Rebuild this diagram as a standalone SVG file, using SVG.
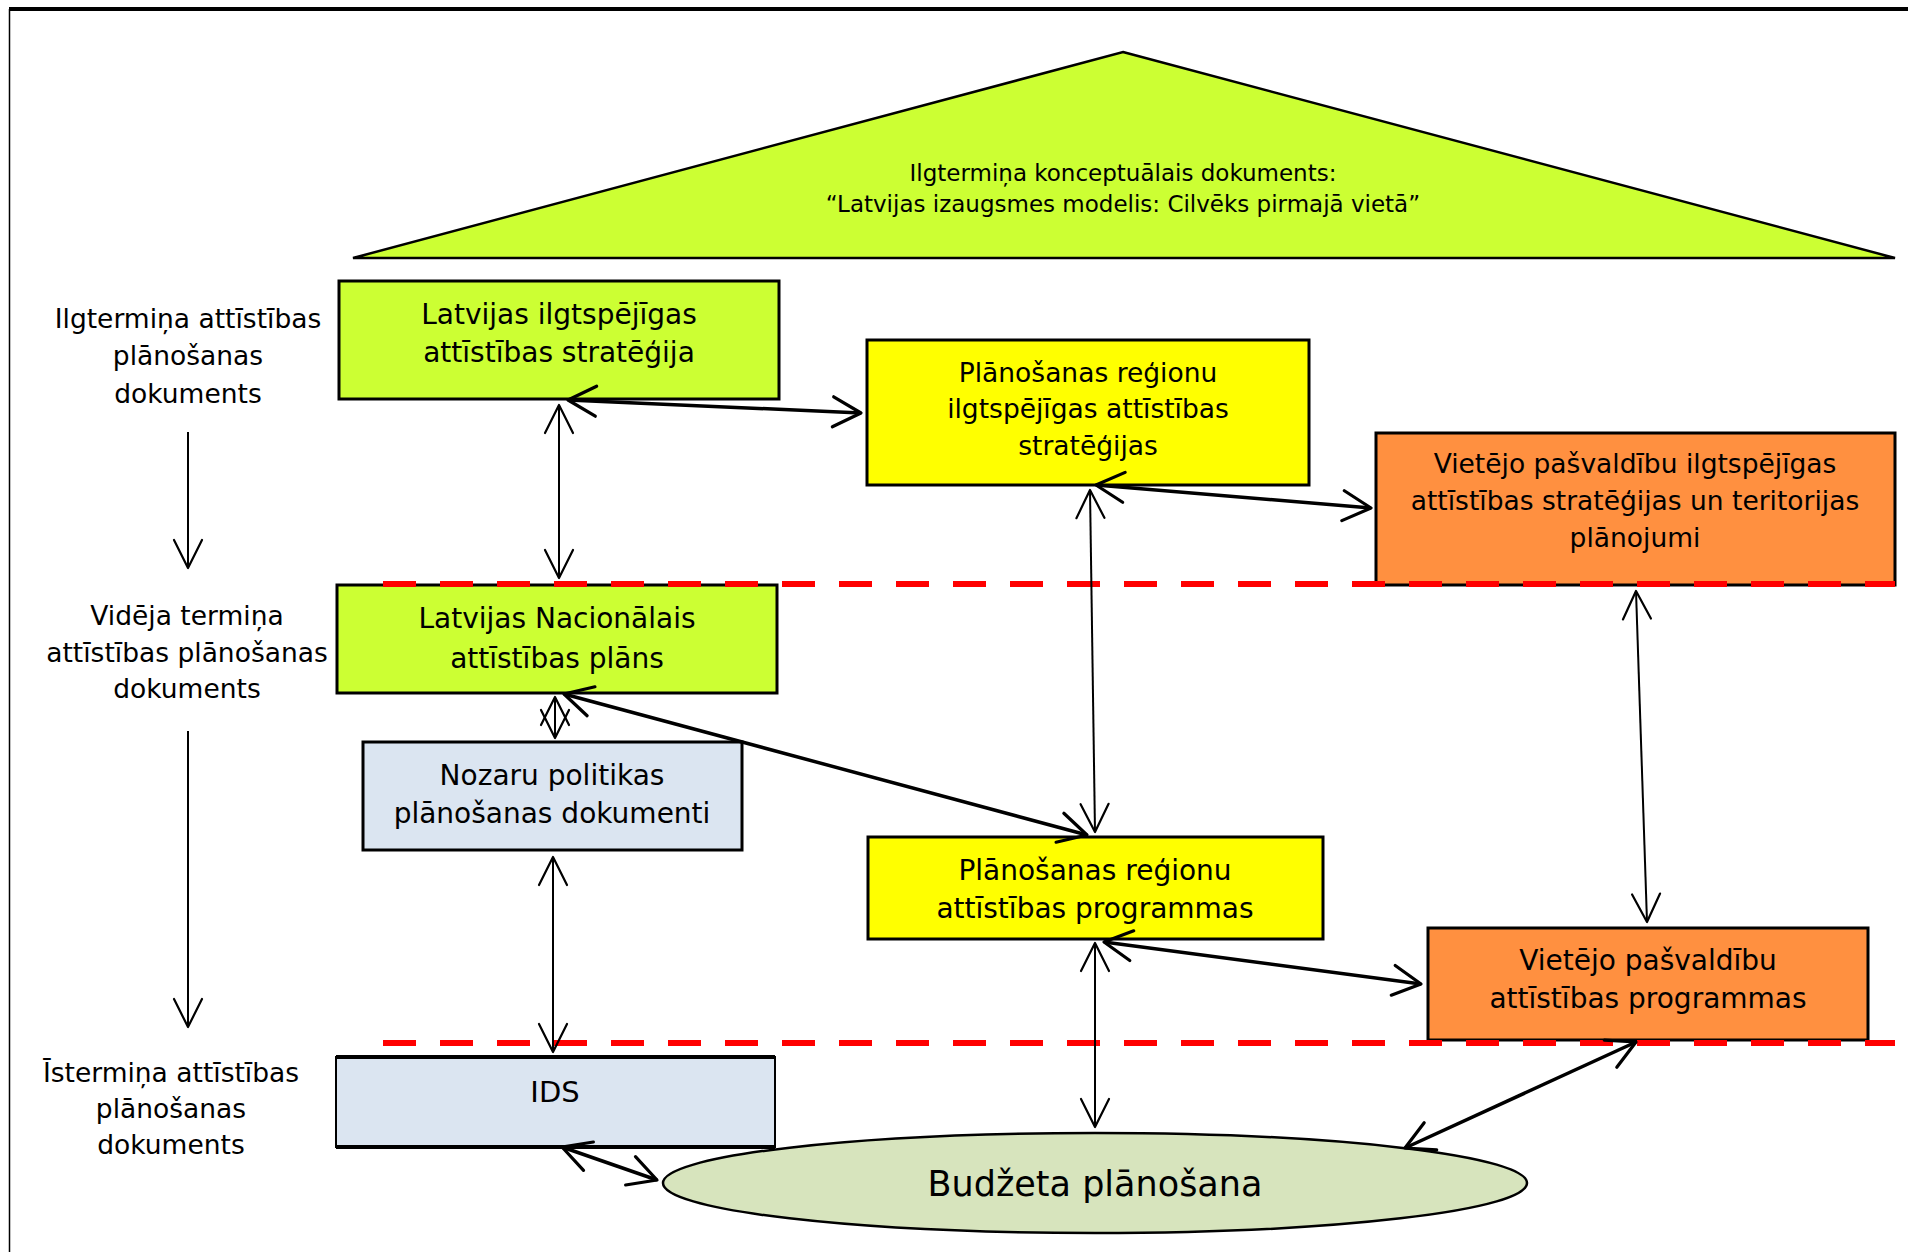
<svg xmlns="http://www.w3.org/2000/svg" width="1908" height="1252" viewBox="0 0 1908 1252">
<style>
.t{font-family:"DejaVu Sans","Liberation Sans",sans-serif;fill:#000;text-anchor:middle}
.bx{stroke:#000;stroke-width:3}
.lime{fill:#ccff33}.yel{fill:#ffff00}.org{fill:#ff9040}.blu{fill:#dbe5f1}
.thin{stroke:#000;stroke-width:2;fill:none}
.thick{stroke:#000;stroke-width:3.5;fill:none}
.red{stroke:#ff0000;stroke-width:6;stroke-dasharray:33 24;fill:none}
</style>
<defs>
<marker id="ah" viewBox="-34 -18 38 36" refX="0" refY="0" markerWidth="38" markerHeight="36" markerUnits="userSpaceOnUse" orient="auto-start-reverse"><path d="M-28,-14 L0,0 L-28,14" fill="none" stroke="#000" stroke-width="2.2" stroke-linecap="round" stroke-linejoin="round"/></marker>
<marker id="ahb" viewBox="-34 -18 38 36" refX="0" refY="0" markerWidth="38" markerHeight="36" markerUnits="userSpaceOnUse" orient="auto-start-reverse"><path d="M-28,-15 L0,0 L-28,15" fill="none" stroke="#000" stroke-width="3.2" stroke-linecap="round" stroke-linejoin="round"/></marker>
</defs>
<rect width="1908" height="1252" fill="#fff"/>
<g id="frame">
<line x1="9" y1="9" x2="1908" y2="9" stroke="#000" stroke-width="4"/>
<line x1="9.5" y1="9" x2="9.5" y2="1252" stroke="#000" stroke-width="1.5"/>
</g>
<g id="triangle">
<polygon points="1123,52 1895,258 353,258" fill="#ccff33" stroke="#000" stroke-width="2.5" stroke-linejoin="miter"/>
<text class="t" x="1123" y="181" font-size="23">Ilgtermiņa konceptuālais dokuments:</text>
<text class="t" x="1123" y="212" font-size="23">“Latvijas izaugsmes modelis: Cilvēks pirmajā vietā”</text>
</g>
<g id="label-long">
<text class="t" x="188" y="328" font-size="26.5">Ilgtermiņa attīstības</text>
<text class="t" x="188" y="365" font-size="26.5">plānošanas</text>
<text class="t" x="188" y="403" font-size="26.5">dokuments</text>
</g>
<g id="label-mid">
<text class="t" x="187" y="625" font-size="26.5">Vidēja termiņa</text>
<text class="t" x="187" y="662" font-size="26.5">attīstības plānošanas</text>
<text class="t" x="187" y="698" font-size="26.5">dokuments</text>
</g>
<g id="label-short">
<text class="t" x="171" y="1082" font-size="26.5">Īstermiņa attīstības</text>
<text class="t" x="171" y="1118" font-size="26.5">plānošanas</text>
<text class="t" x="171" y="1154" font-size="26.5">dokuments</text>
</g>
<g id="n-lias">
<rect class="bx lime" x="339" y="281" width="440" height="118"/>
<text class="t" x="559" y="324" font-size="28">Latvijas ilgtspējīgas</text>
<text class="t" x="559" y="362" font-size="28">attīstības stratēģija</text>
</g>
<g id="n-pr-strat">
<rect class="bx yel" x="867" y="340" width="442" height="145"/>
<text class="t" x="1088" y="382" font-size="26.5">Plānošanas reģionu</text>
<text class="t" x="1088" y="418" font-size="26.5">ilgtspējīgas attīstības</text>
<text class="t" x="1088" y="455" font-size="26.5">stratēģijas</text>
</g>
<g id="n-vp-strat">
<rect class="bx org" x="1376" y="433" width="519" height="152"/>
<text class="t" x="1635" y="473" font-size="26.5">Vietējo pašvaldību ilgtspējīgas</text>
<text class="t" x="1635" y="510" font-size="26.5">attīstības stratēģijas un teritorijas</text>
<text class="t" x="1635" y="547" font-size="26.5">plānojumi</text>
</g>
<g id="n-nap">
<rect class="bx lime" x="337" y="585" width="440" height="108"/>
<text class="t" x="557" y="628" font-size="28">Latvijas Nacionālais</text>
<text class="t" x="557" y="668" font-size="28">attīstības plāns</text>
</g>
<g id="n-nozaru">
<rect class="bx blu" x="363" y="742" width="379" height="108"/>
<text class="t" x="552" y="785" font-size="28">Nozaru politikas</text>
<text class="t" x="552" y="823" font-size="28">plānošanas dokumenti</text>
</g>
<g id="n-pr-prog">
<rect class="bx yel" x="868" y="837" width="455" height="102"/>
<text class="t" x="1095" y="880" font-size="28">Plānošanas reģionu</text>
<text class="t" x="1095" y="918" font-size="28">attīstības programmas</text>
</g>
<g id="n-vp-prog">
<rect class="bx org" x="1428" y="928" width="440" height="112"/>
<text class="t" x="1648" y="970" font-size="28">Vietējo pašvaldību</text>
<text class="t" x="1648" y="1008" font-size="28">attīstības programmas</text>
</g>
<g id="n-ids">
<rect class="blu" x="336" y="1057" width="439" height="90" stroke="#000" stroke-width="2"/>
<line x1="336" y1="1057" x2="775" y2="1057" stroke="#000" stroke-width="4"/>
<line x1="336" y1="1147" x2="775" y2="1147" stroke="#000" stroke-width="4"/>
<text class="t" x="555" y="1102" font-size="29">IDS</text>
</g>
<g id="n-budzets">
<ellipse cx="1095" cy="1183" rx="432" ry="50" fill="#d7e4bd" stroke="#000" stroke-width="2.5"/>
<text class="t" x="1095" y="1196" font-size="35">Budžeta plānošana</text>
</g>
<g id="levels">
<line class="red" x1="383" y1="584" x2="1895" y2="584"/>
<line class="red" x1="383" y1="1043" x2="1895" y2="1043"/>
</g>
<g id="connectors">
<line class="thin" x1="188" y1="432" x2="188" y2="568" marker-end="url(#ah)"/>
<line class="thin" x1="188" y1="731" x2="188" y2="1027" marker-end="url(#ah)"/>
<line class="thick" x1="568" y1="400" x2="861" y2="413" marker-start="url(#ahb)" marker-end="url(#ahb)"/>
<line class="thin" x1="559" y1="405" x2="559" y2="578" marker-start="url(#ah)" marker-end="url(#ah)"/>
<line class="thick" x1="1096" y1="485" x2="1371" y2="508" marker-start="url(#ahb)" marker-end="url(#ahb)"/>
<line class="thin" x1="1090" y1="490" x2="1095" y2="832" marker-start="url(#ah)" marker-end="url(#ah)"/>
<line class="thin" x1="1636" y1="591" x2="1647" y2="922" marker-start="url(#ah)" marker-end="url(#ah)"/>
<line class="thick" x1="564" y1="694" x2="1087" y2="835" marker-start="url(#ahb)" marker-end="url(#ahb)"/>
<line class="thin" x1="555" y1="697" x2="555" y2="738" marker-start="url(#ah)" marker-end="url(#ah)"/>
<line class="thin" x1="553" y1="857" x2="553" y2="1052" marker-start="url(#ah)" marker-end="url(#ah)"/>
<line class="thick" x1="1104" y1="942" x2="1421" y2="984" marker-start="url(#ahb)" marker-end="url(#ahb)"/>
<line class="thin" x1="1095" y1="943" x2="1095" y2="1127" marker-start="url(#ah)" marker-end="url(#ah)"/>
<line class="thick" x1="1636" y1="1042" x2="1405" y2="1148" marker-start="url(#ahb)" marker-end="url(#ahb)"/>
<line class="thick" x1="562" y1="1147" x2="657" y2="1180" marker-start="url(#ahb)" marker-end="url(#ahb)"/>
</g>
</svg>
